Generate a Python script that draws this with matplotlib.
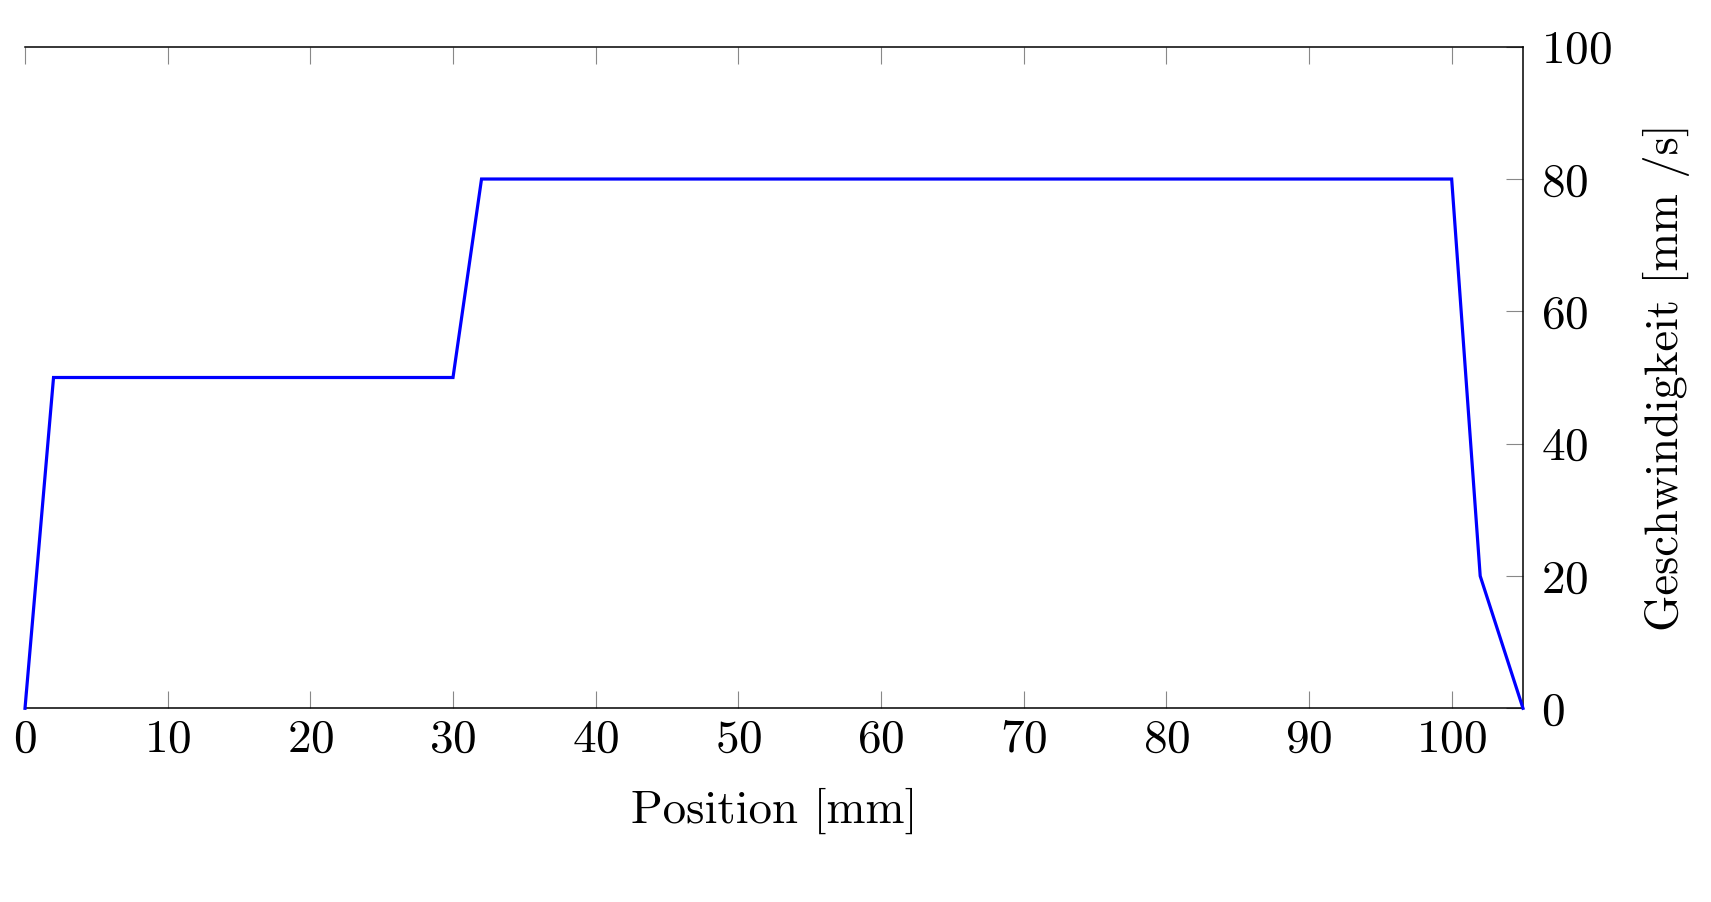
import matplotlib
matplotlib.use('Agg')
import matplotlib.pyplot as plt

# velocity profile: position [mm] vs. speed [mm/s]
position = [0, 2, 30, 32, 100, 102, 105]
speed = [0, 50, 50, 80, 80, 20, 0]
x_ticks = [0, 10, 20, 30, 40, 50, 60, 70, 80, 90, 100]
y_ticks = [0, 20, 40, 60, 80, 100]

plt.rcParams['font.family'] = ['cmr10', 'DejaVu Serif']
plt.rcParams['mathtext.fontset'] = 'cm'
plt.rcParams['axes.formatter.use_mathtext'] = True

fig = plt.figure(figsize=(17.11, 9.02), dpi=100)
ax = fig.add_axes([25 / 1711, 1 - 708.3 / 902, (1523 - 25) / 1711, (708.3 - 46.7) / 902])

ax.plot(position, speed, color=(0, 0, 1), lw=2.3, solid_joinstyle='miter', clip_on=False, zorder=3)

ax.set_xlim(0, 105)
ax.set_ylim(0, 100)
ax.set_xticks(x_ticks)
ax.set_yticks(y_ticks)

ax.spines['left'].set_visible(False)
for s in ['top', 'bottom', 'right']:
    ax.spines[s].set_linewidth(1.1)

ax.yaxis.tick_right()
ax.yaxis.set_label_position('right')
ax.tick_params(axis='x', which='both', direction='in', top=True, bottom=True,
               length=12, width=0.8, color='#888888', labelsize=34, pad=8)
ax.tick_params(axis='y', which='both', direction='in', right=True, left=False,
               length=12, width=0.8, color='#888888', labelsize=34, pad=13)

ax.set_xlabel('Position [mm]', fontsize=33.7, labelpad=19)
ax.set_ylabel('Geschwindigkeit [mm /s]', fontsize=33.5, labelpad=22)

fig.savefig('out.png', dpi=100)
